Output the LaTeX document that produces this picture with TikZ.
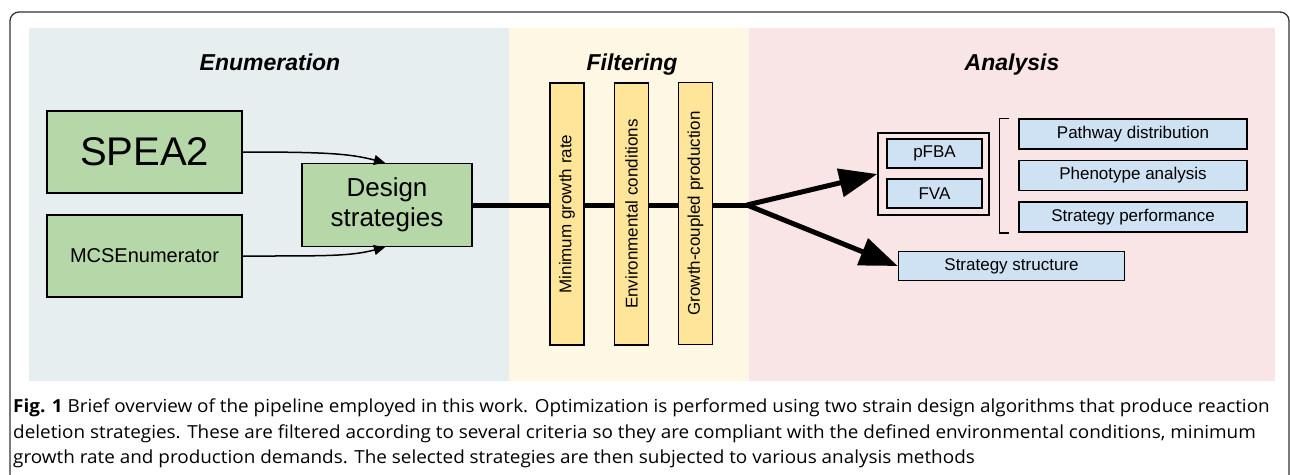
\documentclass[tikz,border=0pt]{standalone}
\usepackage{fontspec}
\setmainfont{Liberation Sans}
\newfontfamily\capfont[FakeStretch=1.05]{Open Sans}
\usetikzlibrary{arrows.meta,positioning}

\definecolor{enumbg}{HTML}{E6EEF0}
\definecolor{filtbg}{HTML}{FEF7E4}
\definecolor{anabg}{HTML}{FAE5E6}
\definecolor{algogreen}{HTML}{B6D7A8}
\definecolor{filtyellow}{HTML}{FFE599}
\definecolor{anablue}{HTML}{CFE2F3}

\tikzset{
  algo/.style={draw, line width=1.5pt, fill=algogreen, minimum width=195pt, minimum height=82pt, inner sep=0pt},
  filterbar/.style={draw, line width=1.5pt, fill=filtyellow, rotate=90, minimum width=262pt, minimum height=34pt, inner sep=0pt, font=\fontsize{17}{20}\selectfont},
  method/.style={draw, line width=1.5pt, fill=anablue, minimum height=29pt, inner sep=0pt, font=\fontsize{17}{20}\selectfont},
  stagetitle/.style={anchor=base, font=\fontsize{23}{26}\selectfont\bfseries\itshape},
  feed/.style={line width=1.5pt, -{Triangle[length=11pt,width=10pt]}},
  flow/.style={line width=5pt, -{Triangle[length=38pt,width=28pt]}}
}

\begin{document}
\begin{tikzpicture}[x=1pt,y=-1pt]
  \useasboundingbox (0,0) rectangle (1290,474);
  % frame and stage panels
  \draw[line width=1.3pt, black!80, rounded corners=9pt] (10,490) -- (10,12) -- (1289,12) -- (1289,490);
  \fill[enumbg] (29,28) rectangle (509,381);
  \fill[filtbg] (509,28) rectangle (749,381);
  \fill[anabg] (749,28) rectangle (1275,381);

  \node[stagetitle] (tenum) at (270,70) {Enumeration};
  \node[stagetitle] (tfilt) at (632,70) {Filtering};
  \node[stagetitle] (tana) at (1012,70) {Analysis};

  % enumeration
  \node[algo, font=\fontsize{40}{44}\selectfont] (spea) at (144.5,152) {SPEA2};
  \node[algo, font=\fontsize{20}{24}\selectfont] (mcs) at (144.5,256) {MCSEnumerator};
  \node[algo, minimum width=170pt, minimum height=83pt, align=center,
        font=\fontsize{26}{30}\selectfont] (design) at (387,205) {Design\\strategies};
  \draw[feed] (spea.east) .. controls +(85,0) and +(-35,-9) .. ([xshift=-2pt]design.north);
  \draw[feed] (mcs.east) .. controls +(85,0) and +(-35,9) .. ([xshift=-2pt]design.south);

  % filtering
  \coordinate (fork) at (747,205);
  \draw[line width=5pt] (design.east) -- (fork);
  \node[filterbar] (fmin) at (567,214) {Minimum growth rate};
  \node[filterbar] (fenv) at (631.5,214) {Environmental conditions};
  \node[filterbar] (fgc) at (695.5,213.5) {Growth-coupled production};

  % analysis
  \node[draw, line width=1.5pt, minimum width=111pt, minimum height=82pt] (pfbox) at (933.5,174) {};
  \node[method, minimum width=95pt] (pfba) at (934.5,153.5) {pFBA};
  \node[method, minimum width=95pt] (fva) at (934.5,193.5) {FVA};
  \node[method, minimum width=228pt, minimum height=30pt] (pathway) at (1133,134) {Pathway distribution};
  \node[method, minimum width=228pt, minimum height=30pt, below=10pt of pathway] (pheno) {Phenotype analysis};
  \node[method, minimum width=228pt, minimum height=30pt, below=10pt of pheno] (perf) {Strategy performance};
  \node[method, minimum width=226pt] (struct) at (1011.5,266) {Strategy structure};
  \draw[line width=1.5pt] ([xshift=-9pt]pathway.north west) -- ++(-10,0) |- ([xshift=-9pt]perf.south west);

  \draw[flow] (fork) -- (pfbox.west);
  \draw[flow] (fork) -- (struct.west);

  % caption
  \node[anchor=north west, inner sep=0pt, align=left, font=\capfont\fontsize{18}{25.5}\selectfont] (caption) at (13,399)
    {\textbf{Fig. 1} Brief overview of the pipeline employed in this work. Optimization is performed using two strain design algorithms that produce reaction\\
     deletion strategies. These are filtered according to several criteria so they are compliant with the defined environmental conditions, minimum\\
     growth rate and production demands. The selected strategies are then subjected to various analysis methods};
\end{tikzpicture}
\end{document}
